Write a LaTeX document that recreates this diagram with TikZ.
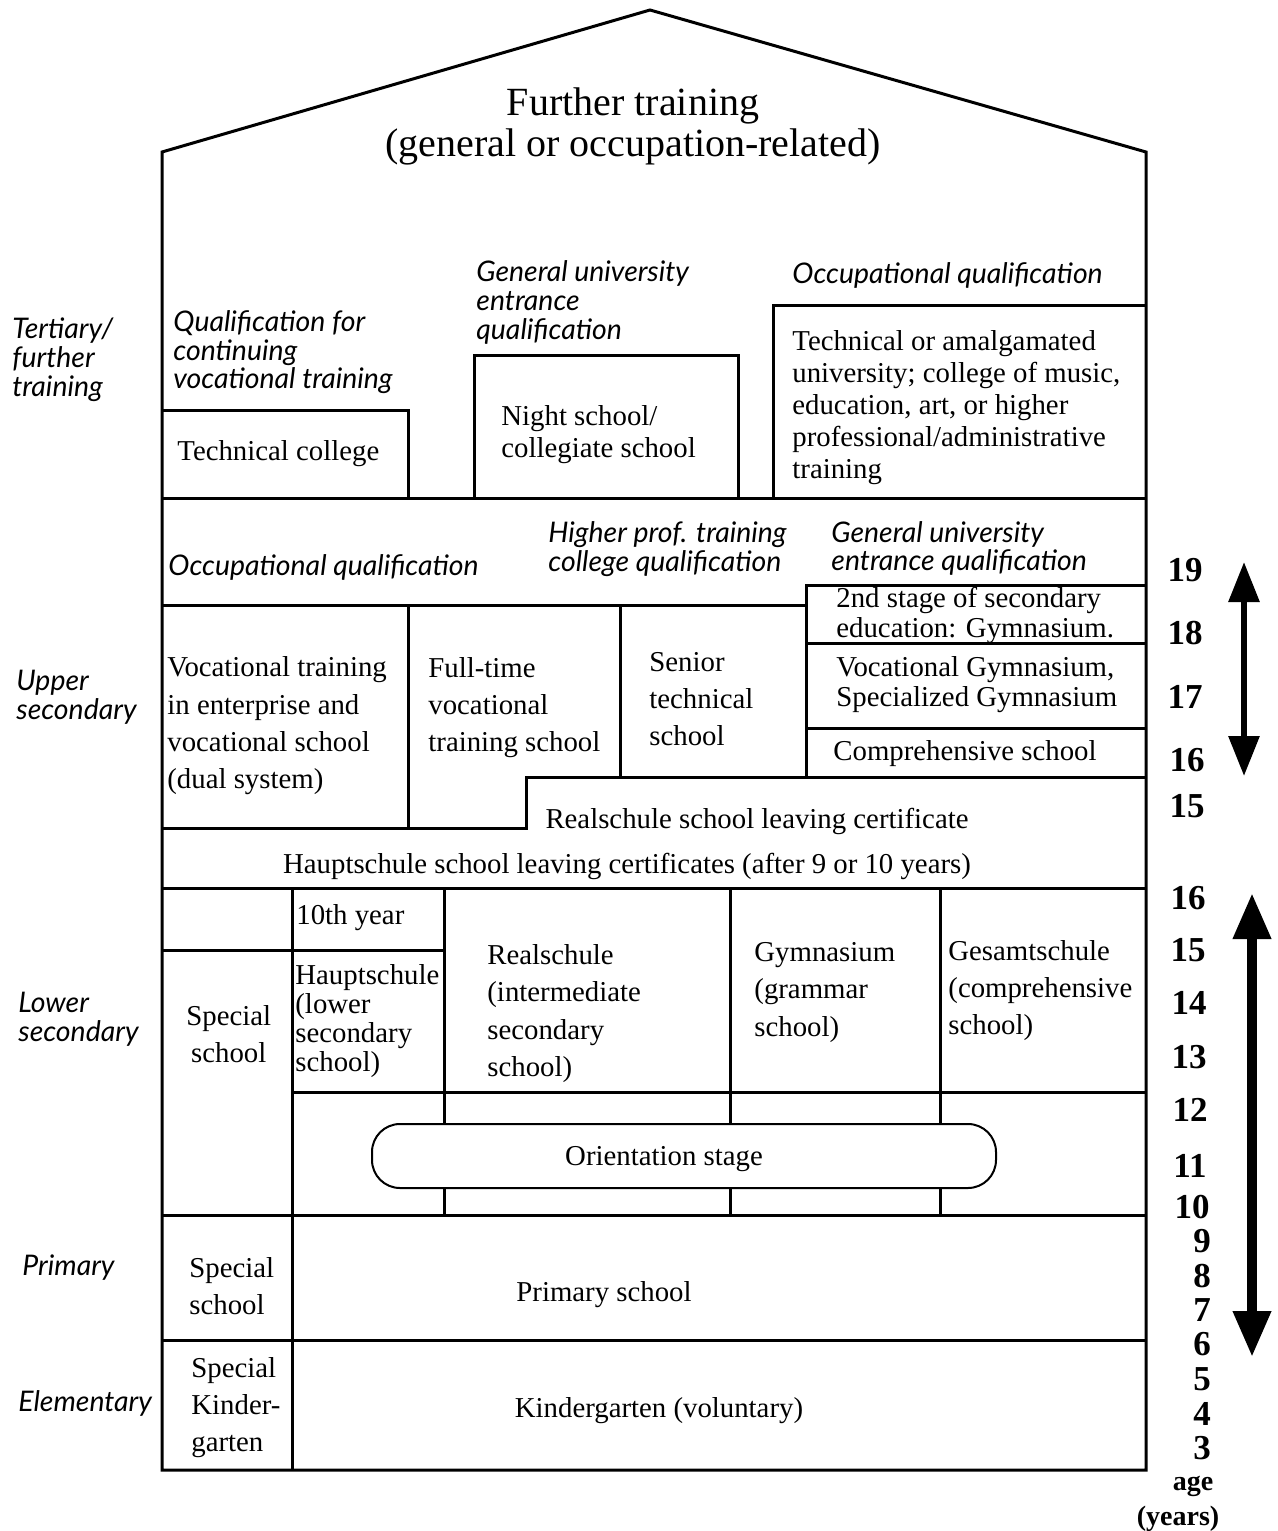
\documentclass[tikz,border=0pt]{standalone}
\usepackage{fontspec}
\setmainfont{Liberation Serif}
\newfontfamily\labfont{Lato}
\usetikzlibrary{arrows.meta}
\begin{document}
\begin{tikzpicture}[x=0.5pt,y=-0.5pt,
  wall/.style={line width=1.5pt,line join=miter},
  body/.style={font=\fontsize{14.4}{#1}\selectfont,inner sep=0pt,align=left,anchor=west,yshift=-1.5pt},
  body/.default=18.5pt,
  cbody/.style={font=\fontsize{14.4}{18}\selectfont,inner sep=0pt,align=center,anchor=center,yshift=-1.5pt},
  lab/.style={font=\labfont\itshape\fontsize{14.2}{#1}\selectfont,inner sep=0pt,align=left,anchor=west,yshift=-1.5pt},
  lab/.default=14.5pt,
  agenum/.style={font=\bfseries\fontsize{17.5}{18}\selectfont,inner sep=0pt,anchor=center},
  bigarrow/.style={line width=#1}]
\useasboundingbox (0,0) rectangle (1278,1531);

% ---------- outline of the house ----------
\draw[wall] (162,152) -- (650,10) -- (1146,152) -- (1146,1470) -- (162,1470) -- cycle;

% ---------- tertiary ----------
\draw[wall] (162,410) -- (408,410) -- (408,498);
\draw[wall] (474,498) -- (474,355) -- (738,355) -- (738,498);
\draw[wall] (773,498) -- (773,305) -- (1146,305);
\draw[wall] (162,498) -- (1146,498);

% ---------- qualification band / upper secondary ----------
\draw[wall] (162,605) -- (806,605);
\draw[wall] (806,777) -- (806,585) -- (1146,585);
\draw[wall] (806,643) -- (1146,643);
\draw[wall] (806,728) -- (1146,728);
\draw[wall] (408,605) -- (408,828);
\draw[wall] (620,605) -- (620,777);
\draw[wall] (162,828) -- (526,828) -- (526,777) -- (1146,777);
\draw[wall] (162,888) -- (1146,888);

% ---------- lower secondary ----------
\draw[wall] (292,888) -- (292,1470);
\draw[wall] (162,950) -- (444,950);
\draw[wall] (444,888) -- (444,1215);
\draw[wall] (730,888) -- (730,1215);
\draw[wall] (940,888) -- (940,1215);
\draw[wall] (292,1092) -- (1146,1092);
\draw[line width=1pt,fill=white,rounded corners=14pt] (372,1124) rectangle (996,1188);

% ---------- primary / elementary ----------
\draw[wall] (162,1215) -- (1146,1215);
\draw[wall] (162,1340) -- (1146,1340);

% ---------- title ----------
\node[font=\fontsize{20}{20.5}\selectfont,inner sep=0pt,align=center,yshift=-1.5pt] (title) at (633,123)
  {Further training\\(general or occupation-related)};

% ---------- left stage labels ----------
\node[lab] (lTert) at (12,357) {Tertiary/\\further\\training};
\node[lab] (lUpper) at (16,694.5) {Upper\\secondary};
\node[lab] (lLower) at (18,1016.5) {Lower\\secondary};
\node[lab] (lPrim) at (22,1265) {Primary};
\node[lab] (lElem) at (18,1400) {Elementary};

% ---------- tertiary texts ----------
\node[lab=14.25pt] (qCont) at (173,349.5) {Qualification for\\continuing\\vocational training};
\node[lab] (qGen1) at (476,299) {General university\\entrance\\qualification};
\node[lab] (qOcc1) at (792,272) {Occupational qualification};
\node[body] (techcol) at (177,451) {Technical college};
\node[body=16pt] (night) at (501,432) {Night school/\\collegiate school};
\node[body=16pt] (univ) at (792,405) {Technical or amalgamated\\university; college of music,\\education, art, or higher\\professional/administrative\\training};

% ---------- qualification band ----------
\node[lab] (qOcc2) at (168,564) {Occupational qualification};
\node[lab] (qHigh) at (548,546.5) {Higher prof. training\\college qualification};
\node[lab=14pt] (qGen2) at (831,545) {General university\\entrance qualification};

% ---------- upper secondary ----------
\node[body=15pt] (gym2) at (836,612) {2nd stage of secondary\\education: Gymnasium.};
\node[body=18.7pt] (dual) at (167,723) {Vocational training\\in enterprise and\\vocational school\\(dual system)};
\node[body] (fulltime) at (428,705) {Full-time\\vocational\\training school};
\node[body] (senior) at (649,696) {Senior\\technical\\school};
\node[body=15pt] (vocgym) at (836,682) {Vocational Gymnasium,\\Specialized Gymnasium};
\node[body] (comp) at (833,751) {Comprehensive school};
\node[cbody] (realcert) at (757,818) {Realschule school leaving certificate};
\node[cbody] (hauptcert) at (627,863) {Hauptschule school leaving certificates (after 9 or 10 years)};

% ---------- lower secondary ----------
\node[body] (tenth) at (296,915) {10th year};
\node[body,align=center] (spec1) at (186,1031.5) {Special\\school};
\node[body=14.5pt] (haupt) at (295,1018.5) {Hauptschule\\(lower\\secondary\\school)};
\node[body=18.8pt] (real) at (487,1010.5) {Realschule\\(intermediate\\secondary\\school)};
\node[body=18.75pt] (gym) at (754,989.5) {Gymnasium\\(grammar\\school)};
\node[body] (gesamt) at (948,988) {Gesamtschule\\(comprehensive\\school)};
\node[cbody] (orient) at (664,1156) {Orientation stage};

% ---------- primary / elementary ----------
\node[body] (spec2) at (189,1283.5) {Special\\school};
\node[cbody] (prim) at (604,1292) {Primary school};
\node[body] (speck) at (191,1405) {Special\\Kinder-\\garten};
\node[cbody] (kg) at (659,1408) {Kindergarten (voluntary)};

% ---------- ages ----------
\node[agenum] (a19) at (1185,570) {19};
\node[agenum] (a18) at (1185,633) {18};
\node[agenum] (a17) at (1185,697) {17};
\node[agenum] (a16u) at (1187,760) {16};
\node[agenum] (a15u) at (1187,806) {15};
\node[agenum] (a16) at (1188,898) {16};
\node[agenum] (a15) at (1188,950) {15};
\node[agenum] (a14) at (1189,1003) {14};
\node[agenum] (a13) at (1189,1057) {13};
\node[agenum] (a12) at (1190,1110) {12};
\node[agenum] (a11) at (1190,1166) {11};
\node[agenum] (a10) at (1192,1207) {10};
\node[agenum] (a9) at (1202,1241) {9};
\node[agenum] (a8) at (1202,1276) {8};
\node[agenum] (a7) at (1202,1310) {7};
\node[agenum] (a6) at (1202,1344) {6};
\node[agenum] (a5) at (1202,1379) {5};
\node[agenum] (a4) at (1202,1414) {4};
\node[agenum] (a3) at (1202,1448) {3};
\node[font=\bfseries\fontsize{14}{16}\selectfont,inner sep=0pt] (agelab) at (1193,1486) {age};
\node[font=\bfseries\fontsize{14}{16}\selectfont,inner sep=0pt] (years) at (1178,1519) {(years)};

% ---------- double arrows ----------
\coordinate (upTop) at (1244,562);
\coordinate (upBot) at (1244,776);
\coordinate (loTop) at (1252,893);
\coordinate (loBot) at (1252,1357);
\draw[bigarrow=3pt,{Triangle[length=20pt,width=15pt]}-{Triangle[length=20pt,width=15pt]}] (upTop) -- (upBot);
\draw[bigarrow=5pt,{Triangle[length=23pt,width=18pt]}-{Triangle[length=23pt,width=18pt]}] (loTop) -- (loBot);
\end{tikzpicture}
\end{document}
